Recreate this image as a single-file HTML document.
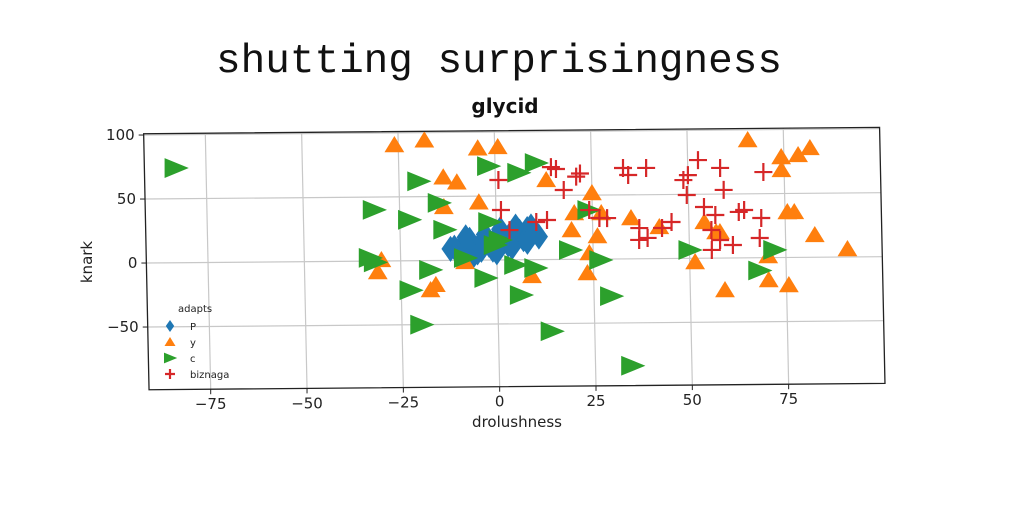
<!DOCTYPE html>
<html><head><meta charset="utf-8"><style>
body{margin:0;background:#fff;width:1024px;height:512px;overflow:hidden}
svg{display:block}
text{font-family:"DejaVu Sans","Liberation Sans",sans-serif}
</style></head><body>
<svg id="chart" width="1024" height="512">
<text x="499" y="72" text-anchor="middle" style="font-family:'Liberation Mono','DejaVu Sans Mono',monospace" font-size="41" fill="#111">shutting surprisingness</text>
<text x="505" y="113" text-anchor="middle" font-size="20" font-weight="bold" fill="#111">glycid</text>
<text x="517" y="427" text-anchor="middle" font-size="15" fill="#222">drolushness</text>
<text x="0" y="0" transform="translate(92,262) rotate(-90)" text-anchor="middle" font-size="15" fill="#222">knark</text>
<g id="grid"></g><g id="marks"></g><g id="axes"></g><g id="legend"></g>
</svg>
<script>
const xTicks=[-75,-50,-25,0,25,50,75];
const yTicks=[-50,0,50,100];
const pX=[-10,-8,-6,-4,-2,0,2,4,6,8,10,11,-9,-5,-1,3,7,9,-11,5,-3,1,-7,-3,1,5,9,-12,-6,0,4,8,-8,-4];
const pY=[8,12,10,14,12,16,18,20,22,24,22,18,5,6,8,12,16,20,10,25,18,22,16,20,24,26,26,9,4,6,10,14,18,8];
const yX=[-26,-18.2,-4.4,0.8,-13.5,-10,13.2,25,-4.4,-13.5,20.3,27.3,26.2,19.5,35,42.3,54,57,24,-30,-31,-16,-17.4,-8.3,9,23.4,51.4,59,65.7,74.3,74.3,78.7,81.8,75.6,77.4,82.6,91,70.4,70.4,75.6,58];
const yY=[90.5,94,87.4,88.3,65,61,62.2,51.7,45.2,41.8,36.2,36,18,22.9,31.9,24.7,28.3,20.4,4.8,0.8,-8.6,-19,-23,-1.3,-12.7,-10.8,-2.9,-25,92,78.5,68.4,80,85.4,35.5,35.5,17.4,6.2,1.3,-17.5,-21.5,20.4];
const cX=[-82.9,-20,-1.8,6,10.6,-31.7,-22.6,-14.8,-13.5,-1.8,-33,-31.7,-17.4,-22.6,-3.1,4.7,9.9,-0.5,6,26.8,29.4,13.8,-20,34.5,19,24,50,68,72,-8.3,0.8];
const cY=[74,62,73.4,68,75.5,40,32,45,24,29.7,2.5,-1,-7.3,-23,-14,-4,-6.5,11.7,-27.5,-0.7,-29,-56,-50,-83.5,7.3,38.4,6.5,-10,6,1.8,15.6];
const bX=[14.5,15.8,21,22,33.2,34.5,39.2,52.7,48.8,58.4,69.6,0.8,17.7,1.3,10.4,13.2,24.2,26.8,28.8,37.1,39.2,37,43,45.5,50,49.6,54,55.8,56.9,58,63,64.4,68.8,68.3,55.8,59.2,3.4,61.3];
const bY=[72.2,70.7,64.6,67,71,65.5,70.9,76.7,61.2,70.4,66.9,62.5,54.2,39,29.4,30.9,38.4,32.1,32,24,16.2,14.7,23.9,28.5,65,49.5,40,22,33.7,14.1,35.9,37.4,31,15.4,6.4,53.2,23.3,10.1];
const X0=-91,X1=100,Y0=-99,Y1=101;
function map(x,y){return [497+3.853*x-0.027*y, 260-0.0333*x-1.28*y];}
const NS="http://www.w3.org/2000/svg";
function mk(tag,attrs,parent){const e=document.createElementNS(NS,tag);for(const k in attrs)e.setAttribute(k,attrs[k]);document.getElementById(parent).appendChild(e);return e;}
function line(a,b,st,w,parent){return mk('line',{x1:a[0],y1:a[1],x2:b[0],y2:b[1],stroke:st,'stroke-width':w},parent);}
xTicks.forEach(t=>{const g=line(map(t,Y0),map(t,Y1),'#c8c8c8',1.2,'grid');


const p=map(t,Y0);line(p,[p[0],p[1]+5],'#222',1,'axes');
const tx=mk('text',{x:p[0],y:p[1]+20,'text-anchor':'middle','font-size':15,fill:'#222'},'axes');tx.textContent=(t<0?'\u2212'+(-t):t);

});
yTicks.forEach(t=>{const g=line(map(X0,t),map(X1,t),'#c8c8c8',1.2,'grid');


const p=map(X0,t);line(p,[p[0]-5,p[1]],'#222',1,'axes');
const tx=mk('text',{x:p[0]-9,y:p[1]+5,'text-anchor':'end','font-size':15,fill:'#222'},'axes');tx.textContent=(t<0?'\u2212'+(-t):t);

});
const c=[map(X0,Y0),map(X1,Y0),map(X1,Y1),map(X0,Y1)];
const fr=mk('polygon',{points:c.map(p=>p.join(',')).join(' '),fill:'none',stroke:'#222','stroke-width':1.3},'axes');


function diamond(x,y,s,col,par){return mk('polygon',{points:`${x},${y-s} ${x+s*0.7},${y} ${x},${y+s} ${x-s*0.7},${y}`,fill:col},par);}
function tri(x,y,s,col,par){return mk('polygon',{points:`${x},${y-s} ${x+s*1.1},${y+s*0.8} ${x-s*1.1},${y+s*0.8}`,fill:col},par);}
function rtri(x,y,s,col,par){return mk('polygon',{points:`${x-s},${y-s*0.9} ${x+s*1.2},${y} ${x-s},${y+s*0.9}`,fill:col},par);}
function plus(x,y,s,col,par){const g=mk('path',{d:`M${x-s},${y}H${x+s}M${x},${y-s}V${y+s}`,stroke:col,'stroke-width':2.2,fill:'none'},par);return g;}
pX.forEach((v,i)=>{const p=map(v,pY[i]);const e=diamond(p[0],p[1],13,'#1f77b4','marks');

});
yX.forEach((v,i)=>{const p=map(v,yY[i]);const e=tri(p[0],p[1],9,'#ff7f0e','marks');

});
cX.forEach((v,i)=>{const p=map(v,cY[i]);const e=rtri(p[0],p[1],11,'#2ca02c','marks');

});
bX.forEach((v,i)=>{const p=map(v,bY[i]);const e=plus(p[0],p[1],9,'#d62728','marks');

});
const lt=mk('text',{x:178,y:312,'font-size':10,fill:'#222'},'legend');lt.textContent='adapts';


const labs=['P','y','c','biznaga'];const fns=[diamond,tri,rtri,plus];const cols=['#1f77b4','#ff7f0e','#2ca02c','#d62728'];const szs=[6,5,6,5];
labs.forEach((l,i)=>{const y=326+i*16;const m=fns[i](170,y,szs[i],cols[i],'legend');


const t=mk('text',{x:190,y:y+4,'font-size':10,fill:'#222'},'legend');t.textContent=l;

});
</script>
</body></html>
